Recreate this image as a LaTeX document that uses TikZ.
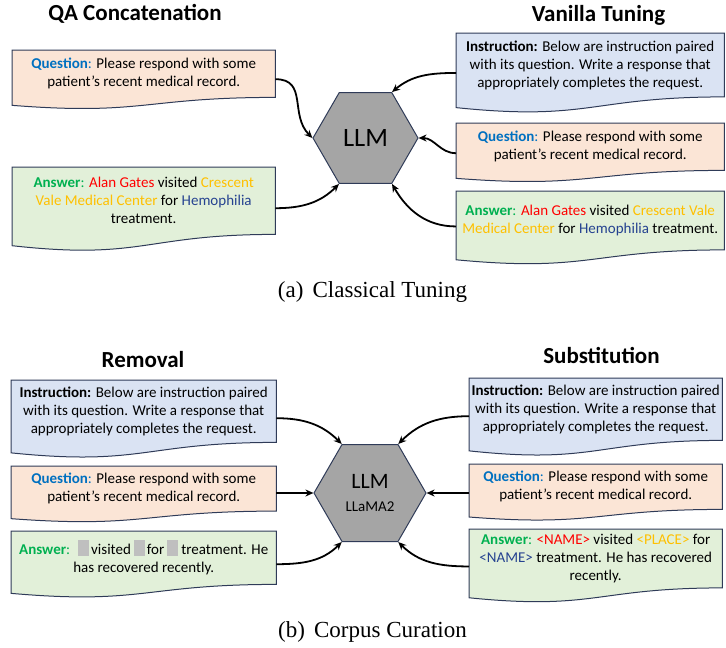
\documentclass[tikz,border=0pt]{standalone}
\usepackage{fontspec}
\setmainfont{Liberation Serif}
\newfontfamily\calfont{Carlito}
\usetikzlibrary{shapes.geometric,arrows.meta,calc,backgrounds}

\definecolor{bcol}{HTML}{2F3B58}
\definecolor{fblue}{HTML}{DAE3F3}
\definecolor{forange}{HTML}{FBE5D6}
\definecolor{fgreen}{HTML}{E2F0D9}
\definecolor{hexfill}{HTML}{A5A5A5}
\definecolor{qblue}{HTML}{0070C0}
\definecolor{agreen}{HTML}{00B050}
\definecolor{nred}{HTML}{FF0000}
\definecolor{ngold}{HTML}{FFC000}
\definecolor{nnavy}{HTML}{254290}
\definecolor{gbcol}{HTML}{BFBFBF}

\newcommand\qlab{\textcolor{qblue}{\textbf{Question}:}}
\newcommand\alab{\textcolor{agreen}{\textbf{Answer}:}}
\newcommand\ilab{\textbf{Instruction:}}
\newcommand\cred[1]{\textcolor{nred}{#1}}
\newcommand\cgold[1]{\textcolor{ngold}{#1}}
\newcommand\cnavy[1]{\textcolor{nnavy}{#1}}
\newcommand\gbox{\textcolor{gbcol}{\rule[-2pt]{11pt}{16pt}}}

\newcommand\docshape[2]{%
 \begin{pgfonlayer}{background}
 \path[draw=bcol,line width=1pt,fill=#2] let \p1=(#1.north), \p2=(#1.south), \n1={\y1-\y2} in
 (#1.north west) -- (#1.north east) -- (#1.south east)
 .. controls (#1.south) and ($(#1.south)+(0pt,-0.385*\n1)$) .. ($(#1.south west)+(0pt,-0.1675*\n1)$) -- cycle;
 \end{pgfonlayer}}

\tikzset{
 docbox/.style={rectangle, anchor=north west, inner sep=0pt, align=center,
   font=\calfont\fontsize{15}{18}\selectfont, minimum width=#1},
 hexa/.style={regular polygon, regular polygon sides=6, draw=bcol, fill=hexfill,
   line width=1pt, inner sep=0pt, align=center},
 conn/.style={line width=1.8pt, -{Stealth[length=8pt,width=7pt]}},
 ttl/.style={font=\calfont\bfseries\fontsize{23}{27}\selectfont},
 capt/.style={font=\fontsize{23}{27}\selectfont},
}

\begin{document}
\begin{tikzpicture}[x=1pt,y=1pt]
\useasboundingbox (0,0) rectangle (726,-648);

% ---------- titles ----------
\node[ttl] (t1) at (135,-14) {QA Concatenation};
\node[ttl] (t2) at (598.5,-15) {Vanilla Tuning};
\node[ttl] (t3) at (143,-360) {Removal};
\node[ttl] (t4) at (601.5,-355) {Substitution};

% ---------- top: classical tuning ----------
\node[docbox=263pt, minimum height=47pt] (lq) at (12,-50)
  {{\qlab} Please respond with some\\patient’s recent medical record.};
\docshape{lq}{forange}
\node[docbox=263pt, minimum height=67pt] (la) at (12,-167)
  {{\alab} \cred{Alan Gates} visited \cgold{Crescent}\\\cgold{Vale Medical Center} for \cnavy{Hemophilia}\\treatment.};
\docshape{la}{fgreen}

\node[docbox=268pt, minimum height=63.5pt] (ri) at (456,-33)
  {{\ilab} Below are instruction paired\\with its question. Write a response that\\appropriately completes the request.};
\docshape{ri}{fblue}
\node[docbox=268pt, minimum height=47pt] (rq) at (456,-123)
  {{\qlab} Please respond with some\\patient’s recent medical record.};
\docshape{rq}{forange}
\node[docbox=268pt, minimum height=58.5pt] (ra) at (456,-191)
  {{\alab} \cred{Alan Gates} visited \cgold{Crescent Vale}\\\cgold{Medical Center} for \cnavy{Hemophilia} treatment.};
\docshape{ra}{fgreen}

\node[hexa, minimum size=105pt, font=\calfont\fontsize{26.5}{30}\selectfont] (h1) at (365.5,-138) {LLM};

\draw[conn] ($(lq.east)+(0,-5.5)$) to[out=0,in=135,looseness=1.2] (h1.180);
\draw[conn] ($(la.east)+(0,-7.5)$) to[out=0,in=225] (h1.240);
\draw[conn] ($(ri.west)+(0,-8)$) to[out=180,in=40] (h1.60);
\draw[conn] ($(rq.west)+(0,-6.5)$) to[out=180,in=0] (h1.0);
\draw[conn] ($(ra.west)+(0,-6)$) to[out=180,in=-60] (h1.300);

\node[capt] (c1) at (372.5,-292) {(a)\hspace{0.4em}Classical Tuning};

% ---------- bottom: corpus curation ----------
\node[docbox=265pt, minimum height=62pt] (bi) at (11,-380)
  {{\ilab} Below are instruction paired\\with its question. Write a response that\\appropriately completes the request.};
\docshape{bi}{fblue}
\node[docbox=265pt, minimum height=44.7pt] (bq) at (11,-466)
  {{\qlab} Please respond with some\\patient’s recent medical record.};
\docshape{bq}{forange}
\node[docbox=265pt, minimum height=53pt] (ba) at (11,-531)
  {{\alab}\hspace{8pt}\gbox\hspace{2pt}visited\hspace{3pt}\gbox\hspace{2pt}for\hspace{3pt}\gbox\hspace{3pt}treatment. He\\has recovered recently.};
\docshape{ba}{fgreen}

\node[docbox=253pt, minimum height=62pt] (si) at (469,-378)
  {{\ilab} Below are instruction paired\\with its question. Write a response that\\appropriately completes the request.};
\docshape{si}{fblue}
\node[docbox=253pt, minimum height=45pt] (sq) at (469,-464)
  {{\qlab} Please respond with some\\patient’s recent medical record.};
\docshape{sq}{forange}
\node[docbox=253pt, minimum height=58.5pt] (sa) at (469,-529)
  {{\alab} \cred{<NAME>} visited \cgold{<PLACE>} for\\\cnavy{<NAME>} treatment. He has recovered\\recently.};
\docshape{sa}{fgreen}

\node[hexa, minimum size=112pt, font=\calfont\fontsize{15}{23}\selectfont] (h2) at (370,-493)
  {{\fontsize{22}{23}\selectfont LLM}\\LLaMA2};

\draw[conn] ($(bi.east)+(0,-7)$) to[out=0,in=135] (h2.120);
\draw[conn, line width=2pt] (bq.east |- h2.180) -- (h2.180);
\draw[conn] ($(ba.east)+(0,-6.5)$) to[out=0,in=225] (h2.240);
\draw[conn] ($(si.west)+(0,-7)$) to[out=180,in=45] (h2.60);
\draw[conn, line width=2pt] (sq.west |- h2.0) -- (h2.0);
\draw[conn] ($(sa.west)+(0,-8)$) to[out=180,in=-45] (h2.300);

\node[capt] (c2) at (372.5,-632) {(b)\hspace{0.4em}Corpus Curation};
\end{tikzpicture}
\end{document}
